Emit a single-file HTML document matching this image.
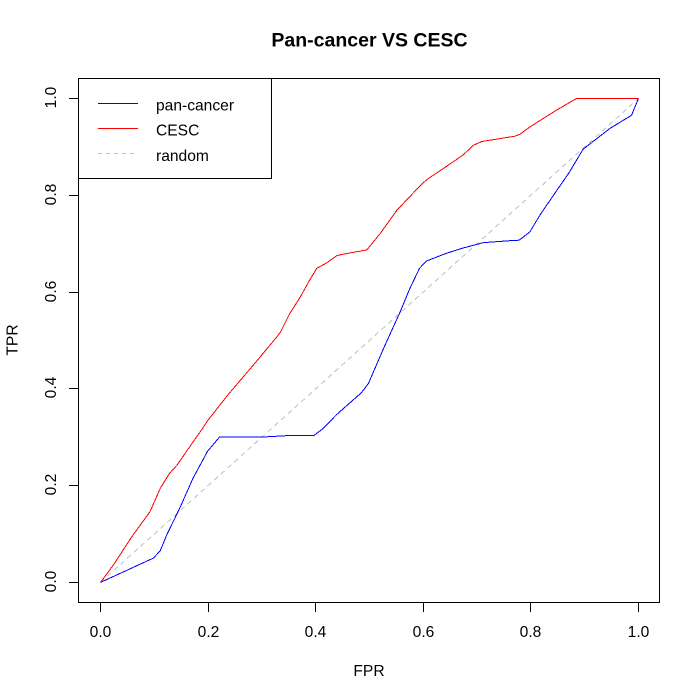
<!DOCTYPE html>
<html>
<head>
<meta charset="utf-8">
<title>Pan-cancer VS CESC</title>
<style>
html,body{margin:0;padding:0;background:#fff;width:700px;height:700px;overflow:hidden}
svg{display:block}
text{font-family:"Liberation Sans",Arial,sans-serif;fill:#000;font-size:15.6px}
</style>
</head>
<body>
<svg id="chart" xmlns="http://www.w3.org/2000/svg" width="700" height="700" viewBox="0 0 700 700">
  <rect x="0" y="0" width="700" height="700" fill="#fff"/>
  <text x="369.5" y="46.5" text-anchor="middle" font-weight="bold" style="font-size:19.5px">Pan-cancer VS CESC</text>
  <text x="369" y="676" text-anchor="middle">FPR</text>
  <text x="17.5" y="340" text-anchor="middle" transform="rotate(-90 17.5 340)">TPR</text>
  <g id="marks"></g>
  <g id="axes"></g>
  <rect x="78.5" y="78.5" width="581" height="524" fill="none" stroke="#000" stroke-width="1" shape-rendering="crispEdges"/>
  <g>
    <rect x="78.5" y="78.5" width="193" height="100" fill="#fff" stroke="#000" stroke-width="1" shape-rendering="crispEdges"/>
    <line x1="98" x2="138" y1="103.5" y2="103.5" stroke="#0000ff" stroke-width="1" shape-rendering="crispEdges"/>
    <text x="156" y="110.5">pan-cancer</text>
    <line x1="98" x2="138" y1="128.5" y2="128.5" stroke="#ff0000" stroke-width="1" shape-rendering="crispEdges"/>
    <text x="156" y="135.5">CESC</text>
    <line x1="98" x2="136" y1="153.5" y2="153.5" stroke="#bebebe" stroke-width="1" stroke-dasharray="4 4" shape-rendering="crispEdges"/>
    <text x="156" y="161">random</text>
  </g>
</svg>
<script>
const tickLabels = ["0.0", "0.2", "0.4", "0.6", "0.8", "1.0"];
const tickValues = [0, 0.2, 0.4, 0.6, 0.8, 1];
const randomFpr = [0, 1];
const randomTpr = [0, 1];
const panFpr = [0, 0.098, 0.111, 0.123, 0.148, 0.172, 0.199, 0.221, 0.296, 0.358, 0.397, 0.414, 0.439, 0.485, 0.498, 0.510, 0.526, 0.557, 0.575, 0.593, 0.606, 0.643, 0.674, 0.712, 0.761, 0.778, 0.798, 0.817, 0.842, 0.870, 0.897, 0.947, 0.987, 1];
const panTpr = [0, 0.050, 0.065, 0.098, 0.155, 0.215, 0.271, 0.300, 0.300, 0.304, 0.304, 0.318, 0.347, 0.392, 0.411, 0.442, 0.483, 0.559, 0.607, 0.649, 0.664, 0.680, 0.691, 0.702, 0.706, 0.707, 0.724, 0.759, 0.800, 0.845, 0.895, 0.938, 0.965, 1];
const cescFpr = [0, 0.024, 0.058, 0.092, 0.111, 0.128, 0.142, 0.172, 0.189, 0.199, 0.235, 0.284, 0.327, 0.335, 0.352, 0.371, 0.388, 0.402, 0.420, 0.439, 0.451, 0.495, 0.520, 0.551, 0.569, 0.597, 0.609, 0.637, 0.674, 0.693, 0.709, 0.770, 0.780, 0.798, 0.848, 0.885, 1];
const cescTpr = [0, 0.036, 0.094, 0.146, 0.194, 0.225, 0.242, 0.290, 0.317, 0.334, 0.385, 0.449, 0.506, 0.518, 0.556, 0.589, 0.623, 0.649, 0.660, 0.675, 0.678, 0.687, 0.721, 0.769, 0.790, 0.823, 0.834, 0.855, 0.883, 0.903, 0.911, 0.922, 0.926, 0.941, 0.976, 1, 1];

const SVG_NS = "http://www.w3.org/2000/svg";
function xScale(v) { return 100.5 + 538 * v; }
function yScale(v) { return 582.4 - 484 * v; }
function pointsFrom(xs, ys) {
  return xs.map(function (x, i) { return xScale(x).toFixed(1) + "," + yScale(ys[i]).toFixed(1); }).join(" ");
}
function addSeries(xs, ys, color, dash, name) {
  const line = document.createElementNS(SVG_NS, "polyline");
  line.setAttribute("points", pointsFrom(xs, ys));
  line.setAttribute("fill", "none");
  line.setAttribute("stroke", color);
  line.setAttribute("stroke-width", "1");
  line.setAttribute("shape-rendering", "crispEdges");
  if (dash) line.setAttribute("stroke-dasharray", dash);
  
  
  document.getElementById("marks").appendChild(line);
}
addSeries(randomFpr, randomTpr, "#bebebe", "5 4", "random-line");
addSeries(panFpr, panTpr, "#0000ff", null, "pan-cancer-line");
addSeries(cescFpr, cescTpr, "#ff0000", null, "cesc-line");

const axes = document.getElementById("axes");
function makeLine(x1, y1, x2, y2) {
  const l = document.createElementNS(SVG_NS, "line");
  l.setAttribute("x1", x1);
  l.setAttribute("y1", y1);
  l.setAttribute("x2", x2);
  l.setAttribute("y2", y2);
  l.setAttribute("stroke", "#000");
  l.setAttribute("stroke-width", "1");
  l.setAttribute("shape-rendering", "crispEdges");
  return l;
}
tickValues.forEach(function (v, i) {
  const px = Math.floor(xScale(v)) + 0.5;
  const py = Math.floor(yScale(v)) + 0.5;
  const labelY = py - 1;

  const xt = makeLine(px, 602.5, px, 612);
  
  
  axes.appendChild(xt);

  const yt = makeLine(69, py, 78.5, py);
  
  
  axes.appendChild(yt);

  const xl = document.createElementNS(SVG_NS, "text");
  xl.setAttribute("x", px);
  xl.setAttribute("y", 637);
  xl.setAttribute("text-anchor", "middle");
  xl.textContent = tickLabels[i];
  
  
  axes.appendChild(xl);

  const yl = document.createElementNS(SVG_NS, "text");
  yl.setAttribute("x", 56);
  yl.setAttribute("y", labelY);
  yl.setAttribute("text-anchor", "middle");
  yl.setAttribute("transform", "rotate(-90 56 " + labelY + ")");
  yl.textContent = tickLabels[i];
  
  
  axes.appendChild(yl);
});
</script>
</body>
</html>
